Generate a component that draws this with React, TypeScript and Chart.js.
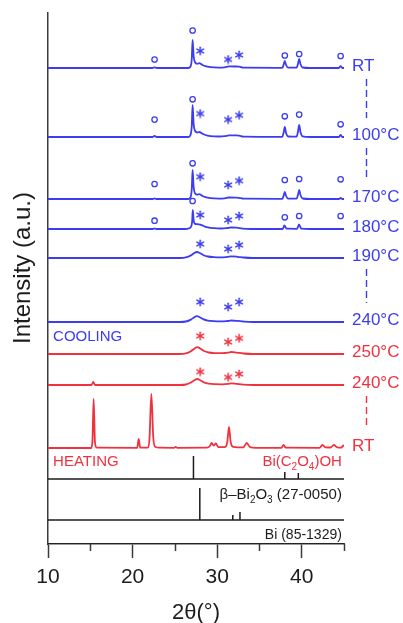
import React, { useEffect, useRef } from "react";
import { Chart, registerables } from "chart.js";

Chart.register(...registerables);

const FONT = "'Liberation Sans', Arial, Helvetica, sans-serif";
const BLUE = "#3c3cf0";
const RED = "#f0323f";
const AXIS = "#3a3a3a";
const INK = "#1c1c1c";

// 2θ range of the scans and the intensity range of the stacked plot
const xMin = 10;
const xMax = 45;
const xStep = 5;
const yMax = 531;

// Powder patterns as [2θ, intensity] pairs (intensity above each trace's own baseline)
const coolRT: [number, number][] = [
  [10, 0], [22.35, 0], [22.6, 0.7], [22.85, 0], [26.6, 0], [26.85, 1.5], [27.0, 9], [27.1, 28],
  [27.22, 12], [27.4, 5.5], [27.65, 4.2], [27.9, 4.8], [28.2, 3.4], [28.6, 1.8], [29.2, 0.8],
  [30.2, 0.4], [30.9, 0.7], [31.4, 1.6], [32.1, 1.5], [32.6, 1.3], [33.1, 0.3], [37.7, 0.2],
  [37.85, 3], [38.0, 7], [38.15, 3], [38.4, 0.4], [39.4, 0.3], [39.55, 4], [39.7, 9], [39.85, 4],
  [40.1, 0.5], [41, 0], [44.4, 0], [44.6, 1.8], [44.8, 0], [45, 0],
];
const cool100: [number, number][] = [
  [10, 0], [22.35, 0], [22.6, 1], [22.85, 0], [26.6, 0], [26.85, 2], [27.0, 11], [27.1, 32],
  [27.22, 13], [27.4, 6], [27.65, 4.5], [27.9, 5], [28.2, 3.6], [28.6, 2], [29.2, 0.9],
  [30.2, 0.5], [30.9, 0.8], [31.4, 1.7], [32.1, 1.6], [32.6, 1.4], [33.1, 0.4], [37.7, 0.2],
  [37.85, 4], [38.0, 10], [38.15, 4], [38.4, 0.5], [39.4, 0.3], [39.55, 5], [39.7, 12], [39.85, 5],
  [40.1, 0.6], [41, 0], [44.4, 0], [44.6, 2], [44.8, 0], [45, 0],
];
const cool170: [number, number][] = [
  [10, 0], [22.4, 0], [22.6, 0.6], [22.8, 0], [26.6, 0], [26.85, 1.6], [27.0, 10], [27.1, 29],
  [27.22, 12], [27.4, 5.5], [27.65, 4.3], [27.9, 4.8], [28.2, 3.4], [28.6, 1.8], [29.2, 0.8],
  [30.2, 0.4], [30.9, 0.7], [31.4, 1.5], [32.1, 1.4], [32.6, 1.2], [33.1, 0.3], [37.7, 0.2],
  [37.85, 3], [38.0, 7], [38.15, 3], [38.4, 0.4], [39.4, 0.3], [39.55, 4], [39.7, 9], [39.85, 4],
  [40.1, 0.5], [41, 0], [44.4, 0], [44.6, 1], [44.8, 0], [45, 0],
];
const cool180: [number, number][] = [
  [10, 0], [22.4, 0], [22.6, 0.5], [22.8, 0], [26.2, 0], [26.7, 0.8], [26.95, 3], [27.05, 8],
  [27.12, 19], [27.22, 9], [27.4, 5], [27.7, 4.8], [28.0, 4.3], [28.4, 3], [28.9, 1.6], [29.6, 0.8],
  [30.5, 0.5], [31.2, 1], [31.6, 1.5], [32.3, 1.3], [33, 0.4], [34, 0], [37.75, 0], [37.95, 3.5],
  [38.2, 0.3], [39.45, 0.2], [39.68, 4.5], [39.95, 0.3], [41, 0], [45, 0],
];
const cool190: [number, number][] = [
  [10, 0], [25.6, 0], [26.3, 0.6], [26.9, 2.6], [27.3, 5], [27.6, 6], [27.95, 5], [28.4, 2.8],
  [28.9, 1.5], [29.6, 0.8], [30.5, 0.6], [31.2, 1.1], [31.7, 1.6], [32.4, 1.2], [33.1, 0.5],
  [34.2, 0], [45, 0],
];
const cool240: [number, number][] = [
  [10, 0], [25.6, 0], [26.3, 0.5], [26.9, 2.4], [27.3, 4.8], [27.6, 5.8], [27.95, 4.8], [28.4, 2.6],
  [28.9, 1.4], [29.6, 0.8], [30.5, 0.6], [31.2, 1], [31.7, 1.5], [32.4, 1.1], [33.1, 0.5],
  [34.2, 0], [45, 0],
];
const heat250: [number, number][] = [
  [10, 0], [25.6, 0], [26.3, 0.6], [26.9, 2.8], [27.35, 5.6], [27.65, 6.8], [28.0, 5.5],
  [28.45, 3], [29, 1.5], [29.7, 0.9], [30.6, 0.8], [31.3, 1.3], [31.7, 2], [32.3, 1.4],
  [33.1, 0.5], [34.2, 0], [45, 0],
];
const heat240: [number, number][] = [
  [10, 0], [15.15, 0], [15.35, 3], [15.55, 0], [25.6, 0], [26.3, 0.5], [26.9, 2.5], [27.35, 5],
  [27.65, 6], [28.0, 4.8], [28.45, 2.6], [29, 1.3], [29.7, 0.8], [30.6, 0.7], [31.3, 1.1],
  [31.7, 1.6], [32.3, 1.1], [33.1, 0.4], [34.2, 0], [45, 0],
];
const heatRT: [number, number][] = [
  [10, 0], [15.1, 0], [15.25, 6], [15.4, 49], [15.55, 6], [15.75, 0.3], [20.55, 0.2], [20.72, 9],
  [20.9, 0.4], [21.8, 0.3], [22.0, 9], [22.22, 54], [22.45, 10], [22.7, 1], [23.2, 0.3],
  [24.9, 0.2], [25.1, 1.2], [25.3, 0.2], [28.8, 0.3], [29.15, 2], [29.35, 5], [29.6, 2.5],
  [29.85, 4.5], [30.15, 0.8], [30.9, 0.8], [31.2, 6], [31.4, 21], [31.6, 6], [31.9, 1.2],
  [33.1, 0.6], [33.5, 5], [33.9, 0.8], [34.6, 0.2], [37.6, 0.2], [37.85, 3.2], [38.1, 0.3],
  [42.1, 0.2], [42.45, 3], [42.8, 0.6], [43.4, 0.5], [43.8, 3], [44.2, 0.6], [44.7, 0.4],
  [44.9, 2.5], [45, 1.5],
];

// Stack order, top to bottom
const traceNames = ["RT", "100°C", "170°C", "180°C", "190°C", "240°C", "250°C", "240°C", "RT"];
const traceOffsets = [476, 407, 345, 315, 286, 222, 190, 159, 96];
const traceHeating = [false, false, false, false, false, false, true, true, true];
const traceProfiles = [coolRT, cool100, cool170, cool180, cool190, cool240, heat250, heat240, heatRT];

// Phase markers: ○ at these 2θ, * at these 2θ; heights above each trace's baseline
const circleAngles = [22.6, 27.1, 38.0, 39.7, 44.6];
const starAngles = [28.0, 31.3, 32.6];
const circlesRT = [8.5, 37.5, 12.5, 14, 12];
const circles100 = [17.4, 37.7, 20.7, 22.4, 12.7];
const circles170 = [15, 35.7, 19, 20, 19.7];
const circles180 = [8.3, 28, 11.7, 13, 13];
const starsRT = [17, 8.5, 13];
const stars100 = [23.4, 17.4, 21.7];
const stars170 = [22.3, 14, 18.3];
const stars180 = [14, 9, 13];
const stars190 = [14, 9, 13];
const stars240c = [20, 15, 20];
const stars250 = [18, 12, 15.7];
const stars240h = [13.3, 7.7, 11];
const circleSets = [circlesRT, circles100, circles170, circles180, null, null, null, null, null];
const starSets = [starsRT, stars100, stars170, stars180, stars190, stars240c, stars250, stars240h, null];

// Reference patterns (stick positions and relative heights)
const oxalatePeaks = [27.2, 38.0, 39.6];
const oxalateHeights = [23, 7, 6];
const betaPeaks = [27.95, 31.85, 32.7];
const betaHeights = [32, 5, 8];
const bismuthPeaks: number[] = [];
const bismuthHeights: number[] = [];
const refOffsets = [65, 24, 0];

// Dashed guides between consecutive temperature labels
const guidePairs = [[0, 1], [1, 2], [4, 5], [7, 8]];

function makeStar(color: string): HTMLCanvasElement {
  const c = document.createElement("canvas");
  c.width = 10;
  c.height = 10;
  const g = c.getContext("2d")!;
  g.strokeStyle = color;
  g.lineWidth = 1.5;
  g.lineCap = "round";
  for (let k = 0; k < 3; k++) {
    const a = Math.PI / 2 + (k * Math.PI) / 3;
    g.beginPath();
    g.moveTo(5 + 3.8 * Math.cos(a), 5 + 3.8 * Math.sin(a));
    g.lineTo(5 - 3.8 * Math.cos(a), 5 - 3.8 * Math.sin(a));
    g.stroke();
  }
  return c;
}

function drawRich(
  ctx: CanvasRenderingContext2D,
  parts: [string, boolean][],
  right: number,
  cy: number,
  size: number,
  color: string
) {
  const sub = Math.round(size * 0.66);
  let w = 0;
  for (const [t, s] of parts) {
    ctx.font = `${s ? sub : size}px ${FONT}`;
    w += ctx.measureText(t).width;
  }
  let x0 = right - w;
  ctx.fillStyle = color;
  ctx.textAlign = "left";
  ctx.textBaseline = "middle";
  for (const [t, s] of parts) {
    ctx.font = `${s ? sub : size}px ${FONT}`;
    ctx.fillText(t, x0, s ? cy + size * 0.32 : cy);
    x0 += ctx.measureText(t).width;
  }
}

function stickData(peaks: number[], heights: number[], base: number) {
  const pts: { x: number; y: number | null }[] = [
    { x: xMin, y: base },
    { x: xMax, y: base },
    { x: xMax, y: null },
  ];
  peaks.forEach((p, i) => {
    pts.push({ x: p, y: base }, { x: p, y: base + heights[i] }, { x: p, y: null });
  });
  return pts;
}

const annotate = {
  id: "annotate",
  afterDraw(chart: any) {
    const { ctx, chartArea } = chart;
    const x = chart.scales.x;
    const y = chart.scales.y;
    ctx.save();

    // minor ticks on the 2θ axis
    ctx.strokeStyle = AXIS;
    ctx.lineWidth = 1.5;
    for (let v = xMin + xStep; v <= xMax; v += 2 * xStep) {
      const px = Math.round(x.getPixelForValue(v)) + 0.5;
      ctx.beginPath();
      ctx.moveTo(px, chartArea.bottom);
      ctx.lineTo(px, chartArea.bottom + 7);
      ctx.stroke();
    }

    // temperature labels at the right end of each trace
    ctx.font = `17px ${FONT}`;
    ctx.textAlign = "left";
    ctx.textBaseline = "middle";
    const labelY = traceOffsets.map((o) => y.getPixelForValue(o) - 2);
    traceNames.forEach((name, i) => {
      ctx.fillStyle = traceHeating[i] ? RED : BLUE;
      ctx.fillText(name, chartArea.right + 8, labelY[i]);
    });

    // dashed guides between labels
    ctx.lineWidth = 1.4;
    ctx.setLineDash([7, 4]);
    const gx = chartArea.right + 22.5;
    guidePairs.forEach(([a, b]) => {
      ctx.strokeStyle = traceHeating[b] ? RED : BLUE;
      ctx.beginPath();
      ctx.moveTo(gx, labelY[a] + 13);
      ctx.lineTo(gx, labelY[b] - 17);
      ctx.stroke();
    });
    ctx.setLineDash([]);

    // run direction captions
    ctx.font = `15px ${FONT}`;
    ctx.fillStyle = BLUE;
    ctx.fillText("COOLING", x.getPixelForValue(10.6), y.getPixelForValue(207));
    ctx.fillStyle = RED;
    ctx.fillText("HEATING", x.getPixelForValue(10.6), y.getPixelForValue(82));

    // reference pattern names
    const rx = x.getPixelForValue(44.75);
    drawRich(ctx, [["Bi(C", false], ["2", true], ["O", false], ["4", true], [")OH", false]], rx, y.getPixelForValue(82), 15, RED);
    drawRich(ctx, [["β–Bi", false], ["2", true], ["O", false], ["3", true], [" (27-0050)", false]], rx, y.getPixelForValue(49), 15, INK);
    drawRich(ctx, [["Bi (85-1329)", false]], rx, y.getPixelForValue(9), 14, INK);

    // axis titles
    ctx.fillStyle = INK;
    ctx.textAlign = "center";
    ctx.textBaseline = "middle";
    ctx.font = `22px ${FONT}`;
    ctx.fillText("2θ(°)", (chartArea.left + chartArea.right) / 2, 613);
    ctx.save();
    ctx.translate(23, 268);
    ctx.rotate(-Math.PI / 2);
    ctx.font = `24px ${FONT}`;
    ctx.fillText("Intensity (a.u.)", 0, 0);
    ctx.restore();

    ctx.restore();
  },
};

export default function App() {
  const ref = useRef<HTMLCanvasElement>(null);

  useEffect(() => {
    const canvas = ref.current;
    if (!canvas) return;
    const starBlue = makeStar(BLUE);
    const starRed = makeStar(RED);
    const datasets: any[] = [];

    traceProfiles.forEach((prof, i) => {
      const off = traceOffsets[i];
      datasets.push({
        data: prof.map(([tt, v]) => ({ x: tt, y: off + v })),
        borderColor: traceHeating[i] ? RED : BLUE,
        borderWidth: 1.8,
        pointRadius: 0,
        cubicInterpolationMode: "monotone",
        fill: false,
      });
    });

    [
      [oxalatePeaks, oxalateHeights],
      [betaPeaks, betaHeights],
      [bismuthPeaks, bismuthHeights],
    ].forEach(([p, h], i) => {
      datasets.push({
        data: stickData(p as number[], h as number[], refOffsets[i]),
        borderColor: INK,
        borderWidth: 1.5,
        pointRadius: 0,
        tension: 0,
        spanGaps: false,
        fill: false,
      });
    });

    circleSets.forEach((hs, i) => {
      if (!hs) return;
      datasets.push({
        data: circleAngles.map((a, k) => ({ x: a, y: traceOffsets[i] + hs[k] })),
        showLine: false,
        pointStyle: "circle",
        pointRadius: 2.7,
        pointBorderWidth: 1.3,
        pointBorderColor: traceHeating[i] ? RED : BLUE,
        pointBackgroundColor: "rgba(0,0,0,0)",
      });
    });

    starSets.forEach((hs, i) => {
      if (!hs) return;
      datasets.push({
        data: starAngles.map((a, k) => ({ x: a, y: traceOffsets[i] + hs[k] })),
        showLine: false,
        pointStyle: traceHeating[i] ? starRed : starBlue,
        pointRadius: 4,
      });
    });

    const chart = new Chart(canvas, {
      type: "line",
      data: { datasets },
      options: {
        animation: false,
        responsive: false,
        devicePixelRatio: 1,
        events: [],
        layout: { padding: { top: 13, right: 59, left: 0, bottom: 0 } },
        plugins: { legend: { display: false }, tooltip: { enabled: false } },
        scales: {
          x: {
            type: "linear",
            min: xMin,
            max: xMax,
            afterFit: (s: any) => {
              s.height = 79;
            },
            grid: {
              display: true,
              drawOnChartArea: false,
              drawTicks: true,
              tickLength: 14,
              tickWidth: 1.5,
              tickColor: (c: any) =>
                c.tick && c.tick.value % (2 * xStep) === 0 ? AXIS : "rgba(0,0,0,0)",
            },
            border: { display: true, color: AXIS, width: 1.5 },
            ticks: {
              stepSize: xStep,
              autoSkip: false,
              maxRotation: 0,
              padding: 7,
              color: INK,
              font: { family: FONT, size: 21 },
              callback: (v: any) => (Number(v) % (2 * xStep) === 0 ? String(v) : ""),
            },
          },
          y: {
            type: "linear",
            min: 0,
            max: yMax,
            afterFit: (s: any) => {
              s.width = 48;
            },
            grid: { display: false },
            border: { display: true, color: AXIS, width: 1.5 },
            ticks: { display: false },
          },
        },
      },
      plugins: [annotate],
    });

    return () => chart.destroy();
  }, []);

  return (
    <div style={{ position: "fixed", left: 0, top: 0, width: 403, height: 623, background: "#fff" }}>
      <canvas ref={ref} width={403} height={623} style={{ display: "block", width: 403, height: 623 }} />
    </div>
  );
}
